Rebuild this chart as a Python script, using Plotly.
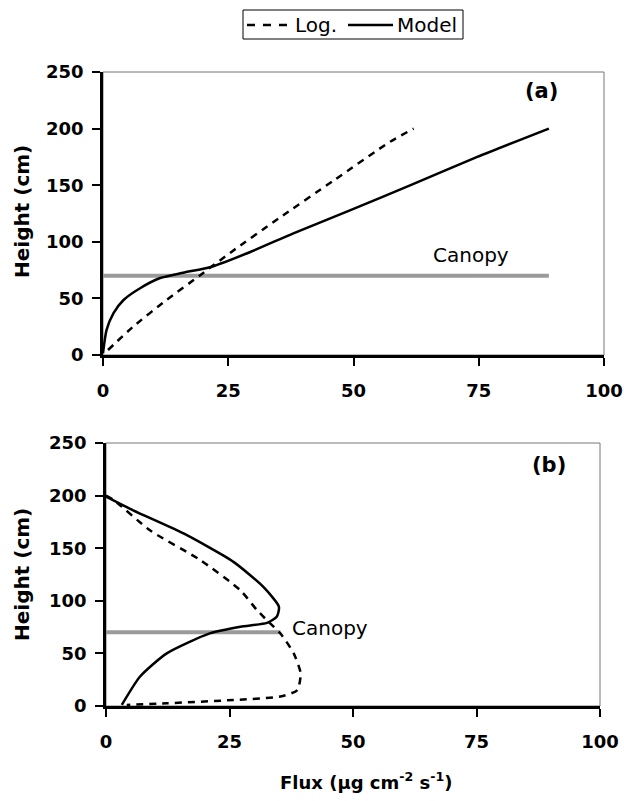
import plotly.graph_objects as go

# ---- Panel (a): flux profiles (flux in µg cm-2 s-1, height in cm) ----
a_model_flux = [0, 0.7, 2.1, 4.1, 7.4, 11.4, 16, 21.7, 29.4, 38, 49.4, 61.4, 74.7, 89]
a_model_height = [1.5, 22, 37, 48.6, 59, 68, 72.7, 78, 91, 107.5, 128, 150, 175, 200]

a_log_flux = [1, 6, 12.7, 19.4, 25.7, 35, 46, 57.3, 62]
a_log_height = [4.4, 25, 48.6, 70.5, 91.3, 120.5, 154, 188.4, 200]

# ---- Panel (b) ----
b_model_flux = [0, 5.5, 15.7, 25.8, 31.9, 35, 34.6, 32.6, 27.2, 21, 12.3, 6.9, 3.2]
b_model_height = [199, 186, 164, 137, 113, 94.4, 85, 79, 75.4, 69, 50, 28, 1]

b_log_flux = [0, 1.5, 8.9, 19, 27.2, 30.6, 32.9, 35.3, 38, 39.4, 38.7, 35.3, 25.8, 12.3, 4.2]
b_log_height = [200, 196, 167, 139, 110, 91, 80, 69, 50, 31, 15, 9, 5.7, 2.6, 1]

canopy_height = 70
a_canopy_extent = [0, 89]
b_canopy_extent = [0, 35.3]

x_ticks = [0, 25, 50, 75, 100]
y_ticks = [0, 50, 100, 150, 200, 250]

series_names = ["Log.", "Model"]

W, H = 624, 801
FONT = "DejaVu Sans, Liberation Sans, Arial, sans-serif"
GRAY = "#9a9a9a"
DASH = "7px,6px"


def px_x(p):
    return p / W


def px_y(p):
    return 1 - p / H


fig = go.Figure()

panels = [
    ("x", "y", a_model_flux, a_model_height, a_log_flux, a_log_height, a_canopy_extent),
    ("x2", "y2", b_model_flux, b_model_height, b_log_flux, b_log_height, b_canopy_extent),
]

for xa, ya, mf, mh, lf, lh, ce in panels:
    fig.add_trace(go.Scatter(
        x=ce, y=[canopy_height, canopy_height], xaxis=xa, yaxis=ya,
        mode="lines", line=dict(color=GRAY, width=4), hoverinfo="skip"))
    fig.add_trace(go.Scatter(
        x=lf, y=lh, xaxis=xa, yaxis=ya, mode="lines", name=series_names[0],
        line=dict(color="black", width=2.5, dash=DASH, shape="spline",
                  smoothing=0.6)))
    fig.add_trace(go.Scatter(
        x=mf, y=mh, xaxis=xa, yaxis=ya, mode="lines", name=series_names[1],
        line=dict(color="black", width=2.5, shape="spline", smoothing=0.6)))

tick_font = dict(family=FONT, size=18, color="black", weight="bold")
axis_common = dict(
    showline=True, linecolor="black", linewidth=2.5,
    ticks="outside", ticklen=8, tickwidth=2, tickcolor="black",
    showgrid=False, zeroline=False, tickfont=tick_font, automargin=False,
)

fig.update_layout(
    width=W, height=H,
    margin=dict(l=0, r=0, t=0, b=0, autoexpand=False),
    paper_bgcolor="white", plot_bgcolor="white",
    showlegend=False,
    xaxis=dict(domain=[px_x(103), px_x(604)], range=[0, 100], tickvals=x_ticks,
               anchor="y", ticklabelstandoff=10, **axis_common),
    yaxis=dict(domain=[px_y(355), px_y(72)], range=[0, 250], tickvals=y_ticks,
               anchor="x", ticklabelstandoff=5, **axis_common),
    xaxis2=dict(domain=[px_x(106), px_x(600)], range=[0, 100], tickvals=x_ticks,
                anchor="y2", ticklabelstandoff=10, **axis_common),
    yaxis2=dict(domain=[px_y(706), px_y(443)], range=[0, 250], tickvals=y_ticks,
                anchor="x2", ticklabelstandoff=5, **axis_common),
)

# thin gray frame on the top and right of each plotting area
for xa, ya in [("x", "y"), ("x2", "y2")]:
    fig.add_shape(type="rect", xref=f"{xa} domain", yref=f"{ya} domain",
                  x0=0, x1=1, y0=0, y1=1, line=dict(color="#777777", width=1),
                  layer="below")

# legend box above the panels
leg_y = px_y(25)
fig.add_shape(type="rect", xref="paper", yref="paper",
              x0=px_x(243), x1=px_x(463), y0=px_y(39), y1=px_y(10),
              line=dict(color="black", width=1), fillcolor="white")
fig.add_shape(type="line", xref="paper", yref="paper",
              x0=px_x(247), x1=px_x(288), y0=leg_y, y1=leg_y,
              line=dict(color="black", width=2.5, dash="8px,8px"))
fig.add_shape(type="line", xref="paper", yref="paper",
              x0=px_x(348), x1=px_x(393), y0=leg_y, y1=leg_y,
              line=dict(color="black", width=2.5))
leg_font = dict(family=FONT, size=20, color="black")
for name, left in zip(series_names, (294, 396)):
    fig.add_annotation(x=px_x(left), y=leg_y, xref="paper", yref="paper",
                       xanchor="left", yanchor="middle", text=name,
                       showarrow=False, font=leg_font, borderpad=0)

ann_font_bold = dict(family=FONT, size=21, color="black", weight="bold")
ann_font = dict(family=FONT, size=20, color="black")

fig.add_annotation(x=87.6, y=233, xref="x", yref="y", text="(a)",
                   showarrow=False, font=ann_font_bold)
fig.add_annotation(x=89.7, y=229, xref="x2", yref="y2", text="(b)",
                   showarrow=False, font=ann_font_bold)
fig.add_annotation(x=73.4, y=88, xref="x", yref="y", text="Canopy",
                   showarrow=False, font=ann_font)
fig.add_annotation(x=37.2, y=74, xref="x2", yref="y2", text="Canopy",
                   showarrow=False, font=ann_font, xanchor="left")

title_font = dict(family=FONT, size=20, color="black", weight="bold")
for yc in (212, 575):
    fig.add_annotation(x=px_x(22), y=px_y(yc), xref="paper", yref="paper",
                       xanchor="center", yanchor="middle",
                       text="Height (cm)", textangle=-90, showarrow=False,
                       font=title_font)
fig.add_annotation(x=px_x(366), y=px_y(781), xref="paper", yref="paper",
                   xanchor="center", yanchor="middle",
                   text="Flux (µg cm<sup>-2</sup> s<sup>-1</sup>)", showarrow=False,
                   font=dict(family=FONT, size=18, color="black", weight="bold"))

fig.write_html("out.html")
